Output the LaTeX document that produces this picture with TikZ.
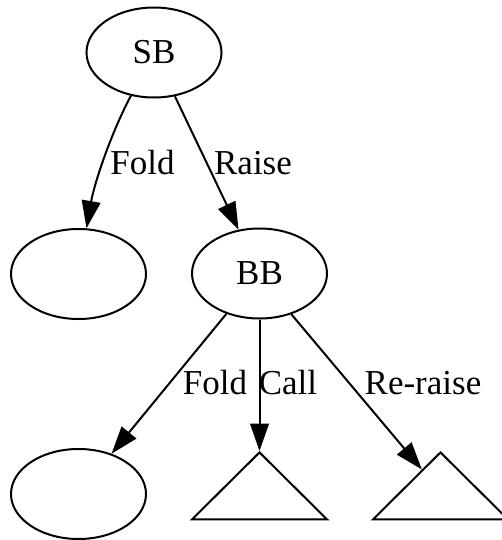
\documentclass[tikz,border=0pt]{standalone}
\usepackage{fontspec}
\setmainfont{Liberation Serif}
\usetikzlibrary{shapes.geometric,arrows.meta}
\begin{document}
\begin{tikzpicture}[x=0.4pt,y=-0.4pt,
  every node/.style={font=\fontsize{14pt}{16pt}\selectfont},
  ell/.style={draw,ellipse,line width=0.8pt,minimum width=54pt,minimum height=36pt,inner sep=0pt},
  tri/.style={draw,isosceles triangle,isosceles triangle apex angle=90,isosceles triangle stretches,shape border rotate=90,line width=0.8pt,inner sep=0pt,minimum width=54pt,minimum height=26.8pt},
  edge/.style={line width=0.8pt,-{Triangle[length=11pt,width=7.5pt]}},
  lbl/.style={inner sep=0pt}]
\useasboundingbox (0,0) rectangle (501,540);
\node[ell] (sb) at (154,52.5) {SB};
\node[ell] (l1) at (78.5,274) {};
\node[ell] (bb) at (259.5,273.5) {BB};
\node[ell] (l2) at (78.5,494) {};
\node[tri,anchor=apex] (t1) at (259.5,451) {};
\node[tri,anchor=apex] (t2) at (440.5,451) {};
\draw[edge] (sb) .. controls (110,135) and (94,185) .. (l1);
\draw[edge] (sb) -- (bb);
\draw[edge] (bb) -- (l2);
\draw[edge] (bb) -- (t1);
\draw[edge] (bb.-52) -- (t2);
\node[lbl] (f1) at (142.5,163) {Fold};
\node[lbl] (r1) at (253,163) {Raise};
\node[lbl] (f2) at (215,383) {Fold};
\node[lbl] (c2) at (288,383) {Call};
\node[lbl] (r2) at (423,383) {Re-raise};
\end{tikzpicture}
\end{document}
